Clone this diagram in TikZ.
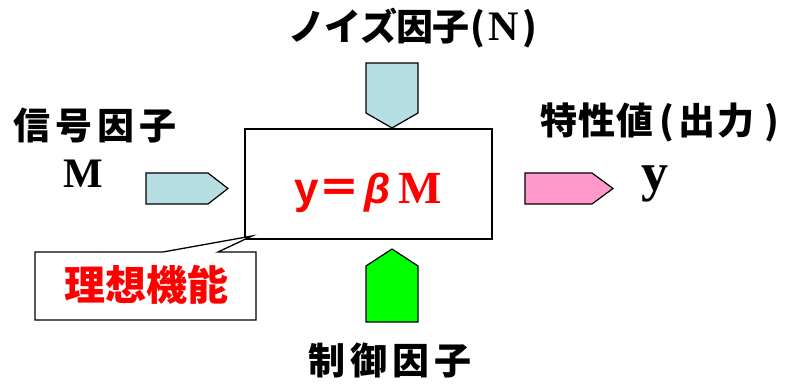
\documentclass[tikz,border=0pt]{standalone}
\usepackage{fontspec}
\setmainfont{Liberation Serif}
\newfontfamily\jp{Noto Sans CJK JP}
\newfontfamily\arialf{Liberation Sans}
\definecolor{lblue}{RGB}{183,222,226}
\definecolor{lpink}{RGB}{255,153,204}
\definecolor{lgreen}{RGB}{0,255,0}
\definecolor{tred}{RGB}{255,0,0}
\begin{document}
\begin{tikzpicture}[x=1pt,y=-1pt,
  lbl/.style={inner sep=0pt,font=\jp\bfseries\fontsize{37}{40}\selectfont},
  blockarrow/.style={draw=black,line width=1.2pt,line join=miter},
  frame/.style={draw=black,line width=1.3pt}]
\useasboundingbox (0,0) rectangle (790,385);
% main box
\node[frame,minimum width=247pt,minimum height=110pt,inner sep=0pt] (box) at (368.5,184) {};
\node[anchor=base west,inner sep=0pt,text=tred] (eq) at (294,203)
  {{\arialf\bfseries\fontsize{44}{46}\selectfont y}{\jp\bfseries\fontsize{42}{44}\selectfont ＝}\kern4pt{\arialf\bfseries\itshape\fontsize{42}{44}\selectfont β}\kern8pt{\rmfamily\bfseries\fontsize{46}{48}\selectfont M}};
% top arrow (noise)
\draw[blockarrow,fill=lblue] (366,63) -- (418,63) -- (418,113) -- (392,128) -- (366,113) -- cycle;
% bottom arrow (control)
\draw[blockarrow,fill=lgreen] (366,322) -- (366,266) -- (392,249) -- (418,266) -- (418,322) -- cycle;
% left arrow (signal)
\draw[blockarrow,fill=lblue] (146,173) -- (208,173) -- (228,188.5) -- (208,204) -- (146,204) -- cycle;
% right arrow (output)
\draw[blockarrow,fill=lpink] (525,173) -- (592,173) -- (613,188.5) -- (592,204) -- (525,204) -- cycle;
% labels
\node[lbl] (noise) at (413,28) {ノ\kern-1ptイ\kern-1ptズ\kern-1pt因\kern-1pt子\kern1pt(\kern3pt{\rmfamily\fontsize{42}{44}\selectfont N}\kern4pt)};
\node[lbl] (sig) at (95,126) {信\kern5pt号\kern5pt因\kern5pt子};
\node[anchor=base,inner sep=0pt,font=\rmfamily\bfseries\fontsize{42}{44}\selectfont] (M) at (83,187) {M};
\node[lbl] (out) at (660,122) {特\kern1pt性\kern1pt値\kern6pt(\kern4pt出\kern2pt力\kern10pt)};
\node[anchor=base,inner sep=0pt,font=\rmfamily\bfseries\fontsize{54}{56}\selectfont] (y) at (655,190) {y};
\node[lbl] (ctrl) at (390,360) {制\kern5pt御\kern5pt因\kern5pt子};
% callout
\coordinate (tip) at (252,236);
\draw[frame,fill=white] (35,252) -- (163,252) -- (tip) -- (218,252) -- (256,252) -- (256,320) -- (35,320) -- cycle;
\node[lbl,text=tred,font=\jp\bfseries\fontsize{41}{44}\selectfont] (ideal) at (146,285) {理想機能};
\end{tikzpicture}
\end{document}
